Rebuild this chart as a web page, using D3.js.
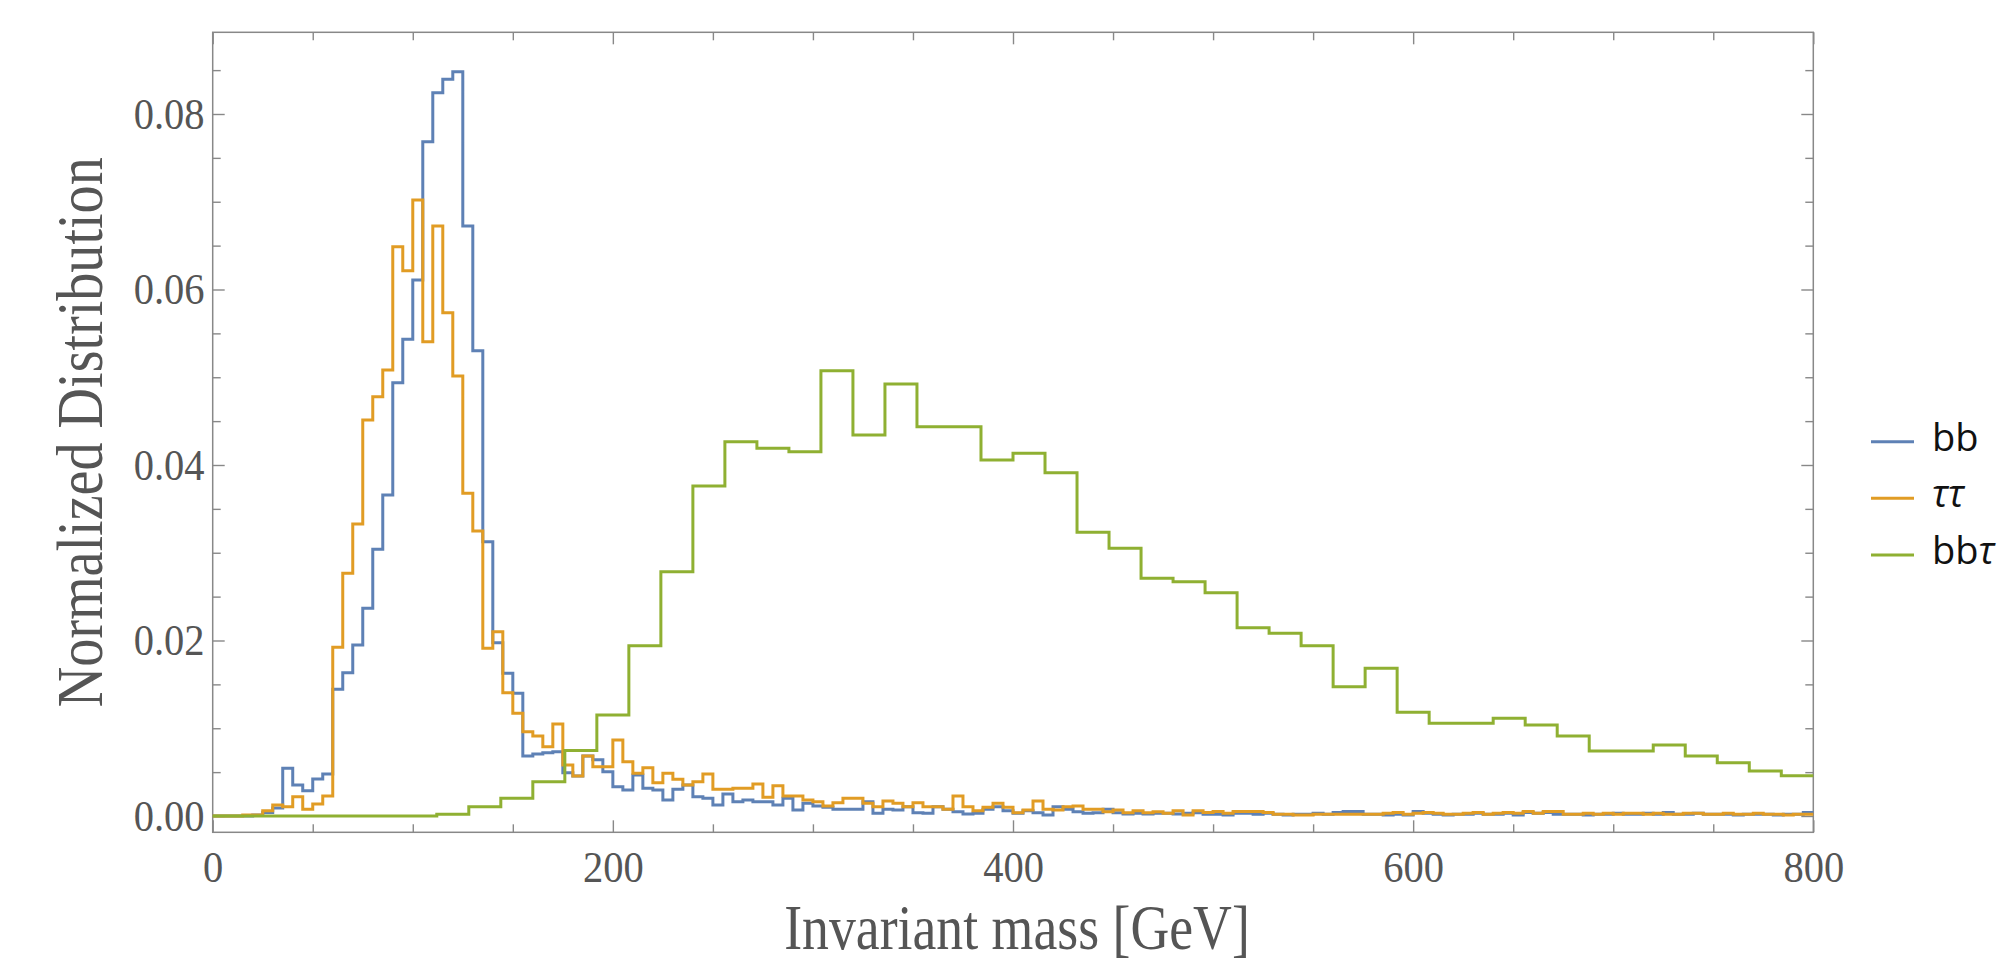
<!DOCTYPE html>
<html>
<head>
<meta charset="utf-8">
<script src="https://cdn.jsdelivr.net/npm/d3@7"></script>
<style>
  body { margin: 0; background: #fff; }
</style>
</head>
<body>
<script>
// bin widths in GeV
const fineBin = 5;
const coarseBin = 16;

// normalized counts, one per bin, starting at 0 GeV
const bbValues = [
    0, 0, 0, 0, 0.0001, 0.0004, 0.0009, 0.00543, 0.00353, 0.00289,
    0.00422, 0.00479, 0.01444, 0.01633, 0.01949, 0.02367, 0.03039, 0.03658, 0.04938, 0.05432,
    0.06108, 0.07685, 0.08243, 0.08395, 0.08482, 0.06724, 0.05303, 0.03126, 0.01975, 0.01626,
    0.01398, 0.00684, 0.00707, 0.00722, 0.00733, 0.00494, 0.00456, 0.00684, 0.0064, 0.00505,
    0.00334, 0.00296, 0.00467, 0.00315, 0.00296, 0.00182, 0.00304, 0.00353, 0.0022, 0.00201,
    0.00125, 0.0025, 0.00163, 0.00182, 0.00163, 0.00163, 0.00125, 0.00201, 0.00068, 0.00144,
    0.00114, 0.00099, 0.00076, 0.00076, 0.00076, 0.00163, 0.0003, 0.00076, 0.00068, 0.00106,
    0.00038, 0.0003, 0.00106, 0.00076, 0.00049, 0.00023, 0.0003, 0.00076, 0.00106, 0.00061,
    0.0003, 0.00061, 0.00038, 0.00011, 0.00106, 0.00076, 0.00049, 0.0003, 0.00038, 0.00076,
    0.00038, 0.00023, 0.0003, 0.00023, 0.0003, 0.0003, 0.00023, 0.0003, 0.00038, 0.0002,
    0.0002, 0.0001, 0.0003, 0.0003, 0.0002, 0.0003, 0.0002, 0.0001, 0.0002, 0.0002,
    0.0003, 0.0002, 0.0004, 0.0005, 0.0005, 0.0002, 0.0002, 0.0001, 0.0002, 0.0001,
    0.0005, 0.0003, 0.0002, 0.0001, 0.0002, 0.0002, 0.0003, 0.0002, 0.0002, 0.0003,
    0.0001, 0.0004, 0.0003, 0.0004, 0.0002, 0.0002, 0.0002, 0.0001, 0.0002, 0.0002,
    0.0003, 0.0002, 0.0002, 0.0003, 0.0002, 0.0004, 0.0002, 0.0002, 0.0003, 0.0002,
    0.0002, 0.0002, 0.0001, 0.0002, 0.0002, 0.0002, 0.0001, 0.0002, 0.0002, 0.0004
];

const tautauValues = [
    0, 0, 0, 0.0001, 0.0001, 0.0006, 0.00125, 0.00106, 0.0022, 0.00076,
    0.00137, 0.00228, 0.01922, 0.02765, 0.03328, 0.04513, 0.04778, 0.05083, 0.06488, 0.06215,
    0.0702, 0.05405, 0.06724, 0.05736, 0.05014, 0.03677, 0.03248, 0.01911, 0.021, 0.01405,
    0.0117, 0.0096, 0.00912, 0.0079, 0.01048, 0.00581, 0.00456, 0.00684, 0.00562, 0.00562,
    0.00866, 0.00619, 0.00486, 0.00551, 0.0038, 0.00486, 0.00418, 0.00353, 0.00391, 0.00479,
    0.00304, 0.00304, 0.00315, 0.00315, 0.00365, 0.00213, 0.00346, 0.00228, 0.00228, 0.00182,
    0.00163, 0.00114, 0.00152, 0.00201, 0.00201, 0.00144, 0.00106, 0.00171, 0.00144, 0.00106,
    0.00152, 0.00106, 0.00106, 0.00076, 0.00228, 0.00106, 0.00061, 0.00099, 0.00144, 0.00099,
    0.00038, 0.00068, 0.00171, 0.00076, 0.00068, 0.00106, 0.00114, 0.00076, 0.00076, 0.00049,
    0.00068, 0.00038, 0.00061, 0.00038, 0.00049, 0.0003, 0.00061, 0.00011, 0.00061, 0.0004,
    0.0005, 0.0003, 0.0005, 0.0005, 0.0005, 0.0004, 0.0002, 0.0002, 0.0001, 0.0001,
    0.0002, 0.0002, 0.0002, 0.0002, 0.0002, 0.0002, 0.0002, 0.0003, 0.0004, 0.0002,
    0.0003, 0.0004, 0.0003, 0.0002, 0.0002, 0.0003, 0.0004, 0.0002, 0.0003, 0.0004,
    0.0003, 0.0005, 0.0003, 0.0005, 0.0005, 0.0002, 0.0002, 0.0003, 0.0002, 0.0003,
    0.0002, 0.0003, 0.0003, 0.0002, 0.0003, 0.0002, 0.0002, 0.0003, 0.0003, 0.0002,
    0.0002, 0.0003, 0.0002, 0.0002, 0.0003, 0.0002, 0.0002, 0.0001, 0.0002, 0.0002
];

const bbtautauValues = [
    0, 0, 0, 0, 0, 0, 0, 0.0002, 0.00106, 0.00201,
    0.00391, 0.00745, 0.01151, 0.01941, 0.02784, 0.03761, 0.04266, 0.0419, 0.04152, 0.05075,
    0.04342, 0.04923, 0.04437, 0.04437, 0.04057, 0.04133, 0.03913, 0.03233, 0.03051, 0.02708,
    0.0267, 0.02545, 0.02146, 0.02082, 0.01941, 0.01474, 0.01683, 0.01181, 0.01056, 0.01056,
    0.01113, 0.01037, 0.00912, 0.00741, 0.00741, 0.00809, 0.00684, 0.00608, 0.00513, 0.0046
];

const xTicks = [0, 200, 400, 600, 800];
const yTicks = [0, 0.02, 0.04, 0.06, 0.08];
const seriesNames = ["bb", "ττ", "bbτ"];
const seriesColors = ["#5e81b5", "#e19c24", "#8fb032"];

const W = 2006, H = 963;
const frame = {left: 212.7, right: 1813.3, top: 32.3, bottom: 832.3};
const serif = "'Liberation Serif', 'DejaVu Serif', serif";

const svg = d3.select("body").append("svg")
    .attr("width", W)
    .attr("height", H);

const x = d3.scaleLinear().domain([0, 800]).range([frame.left, frame.right]);
const y = d3.scaleLinear().domain([-0.001858, 0.08931]).range([frame.bottom, frame.top]);

// minor ticks
const xMinor = d3.range(0, 801, 50).filter(d => d % 200 !== 0);
const yMinor = d3.range(0, 18).map(i => i * 0.005).filter((d, i) => i % 4 !== 0);

function styleAxis(g) {
    g.select(".domain").remove();
    g.selectAll("line").attr("stroke", "#888").attr("stroke-width", 1.4);
}

svg.append("g").attr("transform", "translate(0," + frame.bottom + ")")
    .call(d3.axisBottom(x).tickValues(xMinor).tickSize(-8).tickFormat(""))
    .call(styleAxis);
svg.append("g").attr("transform", "translate(0," + frame.top + ")")
    .call(d3.axisTop(x).tickValues(xMinor).tickSize(-8).tickFormat(""))
    .call(styleAxis);
svg.append("g").attr("transform", "translate(0," + frame.top + ")")
    .call(d3.axisTop(x).tickValues(xTicks).tickSize(-12).tickFormat(""))
    .call(styleAxis);
svg.append("g").attr("transform", "translate(" + frame.left + ",0)")
    .call(d3.axisLeft(y).tickValues(yMinor).tickSize(-8).tickFormat(""))
    .call(styleAxis);
svg.append("g").attr("transform", "translate(" + frame.right + ",0)")
    .call(d3.axisRight(y).tickValues(yMinor).tickSize(-8).tickFormat(""))
    .call(styleAxis);
svg.append("g").attr("transform", "translate(" + frame.right + ",0)")
    .call(d3.axisRight(y).tickValues(yTicks).tickSize(-12).tickFormat(""))
    .call(styleAxis);

// labelled axes
const xAxis = svg.append("g").attr("transform", "translate(0," + frame.bottom + ")")
    .call(d3.axisBottom(x).tickValues(xTicks).tickSize(-12).tickPadding(18).tickFormat(d3.format("d")))
    .call(styleAxis);
const yAxis = svg.append("g").attr("transform", "translate(" + frame.left + ",0)")
    .call(d3.axisLeft(y).tickValues(yTicks).tickSize(-12).tickPadding(9).tickFormat(d3.format(".2f")))
    .call(styleAxis);

[xAxis, yAxis].forEach(a => a.selectAll("text")
    .attr("font-family", serif)
    .attr("font-size", 45)
    .attr("fill", "#555")
    .attr("transform", "scale(0.9,1)"));

// frame
svg.append("rect")
    .attr("x", frame.left).attr("y", frame.top)
    .attr("width", frame.right - frame.left).attr("height", frame.bottom - frame.top)
    .attr("fill", "none")
    .attr("stroke", "#888")
    .attr("stroke-width", 1.5);

// histograms as step outlines
function steps(values, w) {
    const pts = values.map((v, i) => [i * w, v]);
    pts.push([values.length * w, values[values.length - 1]]);
    return pts;
}

const line = d3.line()
    .x(d => x(d[0]))
    .y(d => y(d[1]))
    .curve(d3.curveStepAfter);

const series = [steps(bbValues, fineBin), steps(tautauValues, fineBin), steps(bbtautauValues, coarseBin)];

svg.append("g")
    .selectAll("path")
    .data(series)
    .join("path")
    .attr("fill", "none")
    .attr("stroke", (d, i) => seriesColors[i])
    .attr("stroke-width", 3)
    .attr("stroke-linejoin", "miter")
    .attr("d", line);

// axis titles
svg.append("text")
    .attr("transform", "translate(" + ((frame.left + frame.right) / 2 + 4) + ",949) scale(0.84,1)")
    .attr("text-anchor", "middle")
    .attr("font-family", serif)
    .attr("font-size", 64)
    .attr("fill", "#555")
    .text("Invariant mass [GeV]");

svg.append("text")
    .attr("transform", "translate(102," + (frame.top + frame.bottom) / 2 + ") rotate(-90) scale(0.85,1)")
    .attr("text-anchor", "middle")
    .attr("font-family", serif)
    .attr("font-size", 66)
    .attr("fill", "#555")
    .text("Normalized Distribution");

// legend
const legend = svg.append("g")
    .selectAll("g")
    .data(seriesNames)
    .join("g")
    .attr("transform", (d, i) => "translate(1871," + (441.7 + i * 56.6) + ")");

legend.append("line")
    .attr("x1", 0).attr("x2", 43)
    .attr("stroke", (d, i) => seriesColors[i])
    .attr("stroke-width", 3);

legend.append("text")
    .attr("x", 61)
    .attr("y", 9)
    .attr("font-family", "'Open Sans', sans-serif")
    .attr("font-size", 38)
    .attr("fill", "#111")
    .each(function(d) {
        const t = d3.select(this);
        for (const ch of d) {
            t.append("tspan")
                .attr("font-style", ch === "τ" ? "italic" : "normal")
                .text(ch);
        }
    });
</script>
</body>
</html>
